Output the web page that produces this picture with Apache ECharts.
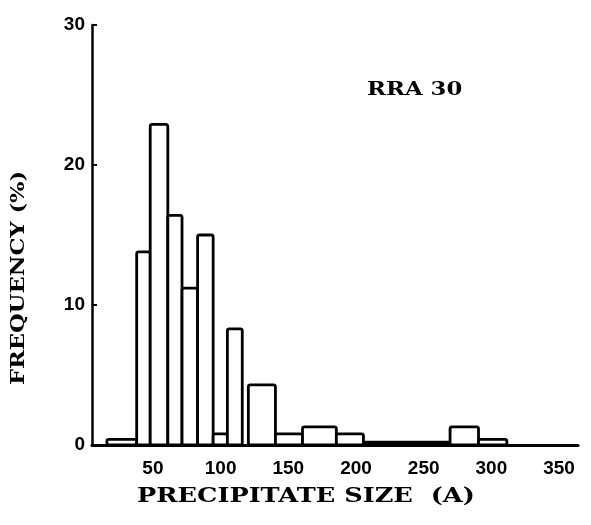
<!DOCTYPE html>
<html>
<head>
<meta charset="utf-8">
<title>RRA 30</title>
<script src="https://cdn.jsdelivr.net/npm/echarts@6/dist/echarts.min.js"></script>
<style>
    html, body { margin: 0; padding: 0; background: #fff; }
    #chart { width: 591px; height: 525px; }
</style>
</head>
<body>
<div id="chart"></div>
<script>
// histogram bins (Å) and frequency (%)
var binStart = [16, 38, 48, 61, 71.5, 83, 94.5, 105, 120.5, 140.5, 160.5, 185.5, 205.5, 269.5, 290.5];
var binEnd   = [38, 48, 61, 71.5, 83, 94.5, 105, 116, 140.5, 160.5, 185.5, 205.5, 269.5, 290.5, 311.5];
var freq     = [0.4, 13.8, 22.9, 16.4, 11.2, 15.0, 0.8, 8.3, 4.3, 0.8, 1.3, 0.8, 0.2, 1.3, 0.4];

var xTicks = [50, 100, 150, 200, 250, 300, 350];
var yTicks = [0, 10, 20, 30];

var chart = echarts.init(document.getElementById('chart'));

var data = binStart.map(function (s, i) {
    return [s, binEnd[i], freq[i]];
});

function renderItem(params, api) {
    var top = api.coord([api.value(0), api.value(2)]);
    var bottom = api.coord([api.value(1), 0]);
    return {
        type: 'rect',
        shape: {
            x: top[0],
            y: top[1],
            width: bottom[0] - top[0],
            height: bottom[1] - top[1],
            r: 2
        },
        style: {
            fill: '#fff',
            stroke: '#000',
            lineWidth: 2.8
        }
    };
}

var labelFont = {
    color: '#000',
    fontSize: 19,
    fontWeight: 'bold',
    fontFamily: 'Liberation Sans'
};

var option = {
    animation: false,
    backgroundColor: '#fff',
    grid: {
        left: 92,
        right: 13,
        top: 25,
        bottom: 80
    },
    xAxis: {
        type: 'value',
        min: 5,
        max: 364,
        splitLine: { show: false },
        axisTick: { show: false },
        axisLine: {
            lineStyle: { color: '#000', width: 3 }
        },
        axisLabel: Object.assign({
            customValues: xTicks,
            margin: 14
        }, labelFont)
    },
    yAxis: {
        type: 'value',
        min: 0,
        max: 30,
        interval: 10,
        splitLine: { show: false },
        axisLine: {
            show: true,
            lineStyle: { color: '#000', width: 2.5 }
        },
        axisTick: {
            show: true,
            inside: true,
            length: 5,
            lineStyle: { color: '#000', width: 2 }
        },
        axisLabel: Object.assign({
            margin: 7,
            formatter: function (v) { return yTicks.indexOf(v) >= 0 ? String(v) : ''; }
        }, labelFont)
    },
    graphic: [
        {
            // y axis title, reads bottom to top
            type: 'text',
            x: 10,
            y: 385,
            rotation: Math.PI / 2,
            scaleX: 1.19,
            style: {
                text: 'FREQUENCY (%)',
                fill: '#000',
                font: 'bold 19px "DejaVu Serif"'
            }
        },
        {
            type: 'text',
            x: 137,
            y: 497,
            scaleX: 1.28,
            style: {
                text: 'PRECIPITATE SIZE  (A)',
                fill: '#000',
                font: 'bold 20px "DejaVu Serif"',
                textVerticalAlign: 'middle'
            }
        },
        {
            type: 'text',
            x: 367,
            y: 90,
            scaleX: 1.2,
            style: {
                text: 'RRA 30',
                fill: '#000',
                font: 'bold 19px "DejaVu Serif"',
                textVerticalAlign: 'middle'
            }
        }
    ],
    series: [
        {
            type: 'custom',
            renderItem: renderItem,
            encode: { x: [0, 1], y: 2 },
            data: data
        }
    ]
};

chart.setOption(option);
</script>
</body>
</html>
